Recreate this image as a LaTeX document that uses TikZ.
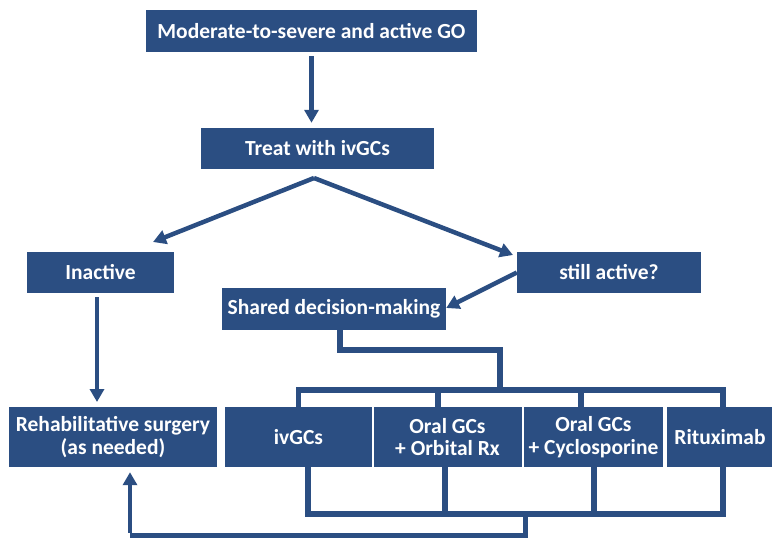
\documentclass[tikz,border=0pt]{standalone}
\usepackage{fontspec}
\setmainfont{Carlito}
\usetikzlibrary{arrows.meta}
\definecolor{goblue}{RGB}{43,78,130}
\begin{document}
\begin{tikzpicture}[x=1pt,y=-1pt,
  box/.style={fill=goblue,text=white,font=\fontsize{21.5}{22.5}\selectfont\bfseries,inner sep=0pt,align=center},
  arrowline/.style={draw=goblue,line width=4.5pt,-{Triangle[width=14pt,length=13pt]}},
  link/.style={draw=goblue,line width=5.5pt}]
\useasboundingbox (0,0) rectangle (772,539);
% nodes
\node[box,minimum width=331,minimum height=42] (top) at (311.5,31) {Moderate-to-severe and active GO};
\node[box,minimum width=233,minimum height=41] (treat) at (317.5,148.5) {Treat with ivGCs};
\node[box,minimum width=147,minimum height=41] (inactive) at (100.5,272.5) {Inactive};
\node[box,minimum width=184,minimum height=41] (still) at (609,272.5) {still active?};
\node[box,minimum width=224,minimum height=42] (shared) at (334,309) {Shared decision-making};
\node[box,minimum width=208,minimum height=60] (rehab) at (113,437) {Rehabilitative surgery\\(as needed)};
\node[box,minimum width=147,minimum height=60] (iv) at (298.5,437) {ivGCs};
\node[box,minimum width=148,minimum height=60] (orb) at (447.5,437) {Oral GCs\\+ Orbital Rx};
\node[box,minimum width=139,minimum height=60] (cyc) at (593.5,437) {Oral GCs\\+ Cyclosporine};
\node[box,minimum width=106,minimum height=60] (rit) at (720,437) {Rituximab};
% arrows
\draw[arrowline,shorten <=4pt,shorten >=5pt] (top.south) -- (top.south |- treat.north);
\coordinate (apex) at (314,178);
\coordinate (li) at (153,242);
\coordinate (ri) at (513,255);
\draw[arrowline] (apex) -- (li);
\draw[arrowline] (apex) -- (ri);
\draw[arrowline] (still.west) -- ([yshift=1]shared.east);
\coordinate (ia) at (97,297);
\coordinate (ib) at (97,402);
\draw[arrowline] (ia) -- (ib);
% bracket from shared decision
\coordinate (s1) at (340,350);
\coordinate (s2) at (500,390);
\draw[link] (shared.south -| s1) -- (s1) -| (s2);
\coordinate (ta) at (298.5,390);
\coordinate (tb) at (438,390);
\coordinate (tc) at (581,390);
\coordinate (td) at (723,390);
\draw[link] (iv.north -| ta) -- (ta) -- (td) -- (rit.north -| td);
\draw[link] (tb) -- (orb.north -| tb);
\draw[link] (tc) -- (cyc.north -| tc);
% bottom bracket
\coordinate (ba) at (308,514);
\coordinate (bb) at (445,514);
\coordinate (bc) at (594,514);
\coordinate (bd) at (723,514);
\draw[link] (iv.south -| ba) -- (ba) -- (bd) -- (rit.south -| bd);
\draw[link] (orb.south -| bb) -- (bb);
\draw[link] (cyc.south -| bc) -- (bc);
\coordinate (r1) at (525,514);
\coordinate (r2) at (130,535);
\draw[draw=goblue,line width=5pt] (r1) |- (r2);
\draw[arrowline,shorten >=5pt] ([yshift=2.5]r2) -- (rehab.south -| r2);
\end{tikzpicture}
\end{document}
